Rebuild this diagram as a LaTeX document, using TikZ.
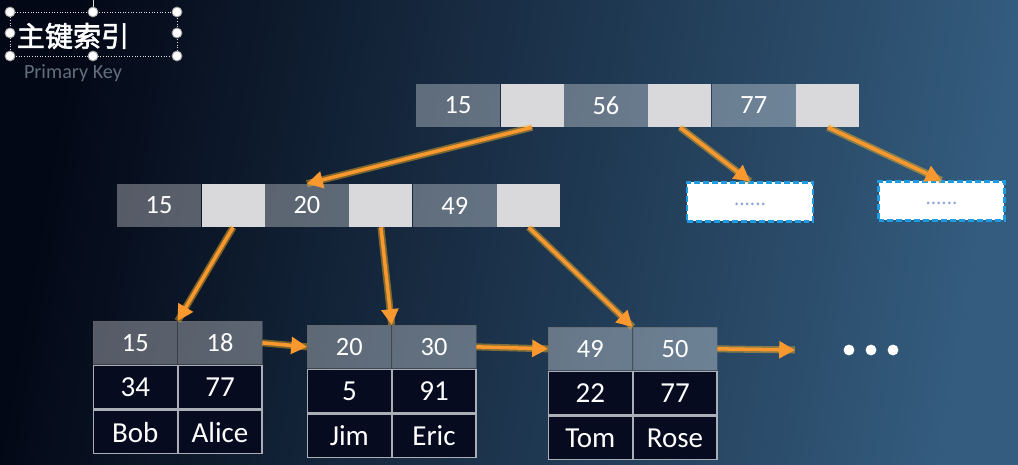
\documentclass[tikz,border=0pt]{standalone}
\usepackage{fontspec}
\setmainfont{Carlito}
\newfontfamily\cjk{Noto Sans CJK SC}[FakeBold=2]
\usetikzlibrary{positioning,arrows.meta}

\definecolor{bgleft}{RGB}{3,8,22}
\definecolor{bgmid}{RGB}{12,27,50}
\definecolor{bgright}{RGB}{52,92,126}
\definecolor{ptrgray}{RGB}{217,217,219}
\definecolor{leafdark}{RGB}{6,11,32}
\definecolor{leafline}{RGB}{170,174,182}
\definecolor{subgray}{RGB}{98,110,124}
\definecolor{arroworange}{RGB}{250,152,48}
\definecolor{dashblue}{RGB}{30,155,225}
\definecolor{dotblue}{RGB}{140,165,215}

\tikzset{
  keycell/.style={fill=white, fill opacity=.32, text opacity=1, text=white,
    minimum width=1.67cm, minimum height=.86cm, inner sep=0pt,
    font=\fontsize{15}{18}\selectfont},
  ptrcell/.style={fill=ptrgray, minimum width=1.26cm, minimum height=.86cm, inner sep=0pt},
  leafkey/.style={keycell, minimum width=1.68cm, draw=black!60, draw opacity=.5, line width=.4pt},
  leafcell/.style={draw=leafline, line width=.8pt, fill=leafdark, text=white,
    minimum width=1.68cm, minimum height=.87cm, inner sep=0pt,
    font=\fontsize{16.5}{19}\selectfont},
  morebox/.style={draw=dashblue, dash pattern=on 3.4pt off 1.7pt, line width=1.3pt, fill=white,
    text=dotblue, minimum width=2.52cm, minimum height=.78cm, inner sep=0pt,
    font=\fontsize{12}{14}\selectfont},
  link/.style={arroworange, line width=2pt, -{Triangle[length=9pt,width=9.5pt]},
    preaction={draw=arroworange!70!yellow, line width=4pt, draw opacity=.45, -}},
  handle/.style={fill=white, draw=gray!70, line width=.5pt}
}

\begin{document}
\begin{tikzpicture}[x=0.02cm, y=-0.02cm]

  % background
  \useasboundingbox (0,0) rectangle (1018,465);
  \shade[left color=bgleft, middle color=bgmid, right color=bgright, shading angle=80]
    (0,0) rectangle (1018,465);

  % title with selection frame
  \draw[densely dotted, white!75!gray, line width=.5pt] (10,12) rectangle (177,56);
  \draw[white!75!gray, line width=.5pt] (93,0) -- (93,12);
  \foreach \x/\y in {10/12, 93/12, 177/12, 10/33, 177/33, 10/56, 93/56, 177/56}{
    \draw[handle] (\x,\y) circle (2.8pt);
  }
  \node[text=white, font=\cjk\fontsize{16}{18}\selectfont] (title) at (73,36) {主键索引};
  \node[text=subgray, font=\fontsize{11.5}{14}\selectfont] (subtitle) at (73,73) {Primary Key};

  % root
  \node[keycell, anchor=west] (t15) at (416,105.5) {15};
  \node[ptrcell, right=0pt of t15] (tp1) {};
  \node[keycell, right=0pt of tp1] (t56) {56};
  \node[ptrcell, right=0pt of t56] (tp2) {};
  \node[keycell, right=0pt of tp2] (t77) {77};
  \node[ptrcell, right=0pt of t77] (tp3) {};

  % inner node
  \node[keycell, anchor=west] (m15) at (117,205.5) {15};
  \node[ptrcell, right=0pt of m15] (mp1) {};
  \node[keycell, right=0pt of mp1] (m20) {20};
  \node[ptrcell, right=0pt of m20] (mp2) {};
  \node[keycell, right=0pt of mp2] (m49) {49};
  \node[ptrcell, right=0pt of m49] (mp3) {};

  \node[morebox] (more1) at (750,202) {\raisebox{-4pt}{......}};
  \node[morebox] (more2) at (941.5,201) {\raisebox{-4pt}{......}};

  % leaves
  \node[leafkey, anchor=north west] (a15) at (93,321) {15};
  \node[leafkey, right=0pt of a15] (a18) {18};
  \node[leafcell, below=0pt of a15] (a34) {34};
  \node[leafcell, below=0pt of a18] (a77) {77};
  \node[leafcell, below=0pt of a34] (abob) {Bob};
  \node[leafcell, below=0pt of a77] (aalice) {Alice};

  \node[leafkey, anchor=north west] (b20) at (307,325) {20};
  \node[leafkey, right=0pt of b20] (b30) {30};
  \node[leafcell, below=0pt of b20] (b5) {5};
  \node[leafcell, below=0pt of b30] (b91) {91};
  \node[leafcell, below=0pt of b5] (bjim) {Jim};
  \node[leafcell, below=0pt of b91] (beric) {Eric};

  \node[leafkey, anchor=north west] (c49) at (548,327) {49};
  \node[leafkey, right=0pt of c49] (c50) {50};
  \node[leafcell, below=0pt of c49] (c22) {22};
  \node[leafcell, below=0pt of c50] (c77) {77};
  \node[leafcell, below=0pt of c22] (ctom) {Tom};
  \node[leafcell, below=0pt of c77] (crose) {Rose};

  \coordinate (next) at (795,350);
  \foreach \x in {849, 871, 893}{
    \fill[white] (\x,350) circle (3.1pt);
  }

  % pointers
  \draw[link] (tp1.south) -- (m20.north);
  \draw[link] (tp2.south) -- (more1.north);
  \draw[link] (tp3.south) -- (more2.north);
  \draw[link] (mp1.south) -- (a15.north east);
  \draw[link] (mp2.south) -- (b20.north east);
  \draw[link] (mp3.south) -- (c49.north east);
  \draw[link] (a18.east) -- (b20.west);
  \draw[link] (b30.east) -- (c49.west);
  \draw[link] (c50.east) -- (next);

\end{tikzpicture}
\end{document}
